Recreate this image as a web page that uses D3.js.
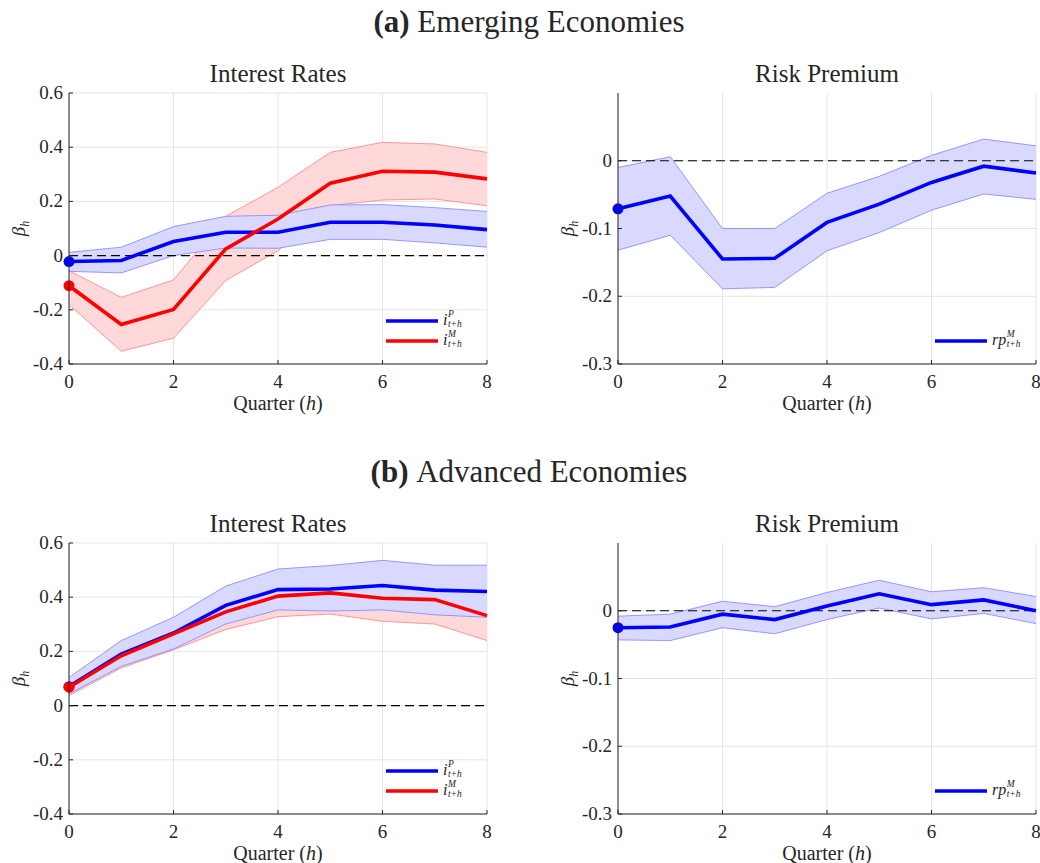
<!DOCTYPE html>
<html>
<head>
<meta charset="utf-8">
<script src="https://cdn.jsdelivr.net/npm/d3@7"></script>
<style>
  body { margin: 0; background: #fff; }
  svg text { fill: #262626; }
</style>
</head>
<body>
<svg id="chart" width="1040" height="863" font-family="'Liberation Serif', 'DejaVu Serif', serif"></svg>
<script>
var quarters = [0, 1, 2, 3, 4, 5, 6, 7, 8];
var xTicks = [0, 2, 4, 6, 8];
var rateTicks = [-0.4, -0.2, 0, 0.2, 0.4, 0.6];
var riskTicks = [-0.3, -0.2, -0.1, 0];

// emerging economies
var emPolicy   = [-0.022, -0.018, 0.052, 0.086, 0.086, 0.123, 0.123, 0.113, 0.096];
var emPolicyHi = [0.012, 0.031, 0.107, 0.145, 0.149, 0.187, 0.188, 0.177, 0.163];
var emPolicyLo = [-0.058, -0.064, 0.000, 0.028, 0.027, 0.060, 0.060, 0.047, 0.031];
var emMarket   = [-0.111, -0.254, -0.199, 0.025, 0.135, 0.267, 0.311, 0.308, 0.283];
var emMarketHi = [-0.056, -0.154, -0.090, 0.145, 0.252, 0.381, 0.418, 0.412, 0.381];
var emMarketLo = [-0.181, -0.353, -0.305, -0.092, 0.018, 0.184, 0.205, 0.209, 0.184];
var emRisk     = [-0.071, -0.052, -0.145, -0.144, -0.091, -0.064, -0.032, -0.008, -0.018];
var emRiskHi   = [-0.010, 0.006, -0.100, -0.100, -0.048, -0.023, 0.008, 0.032, 0.022];
var emRiskLo   = [-0.132, -0.110, -0.189, -0.187, -0.133, -0.106, -0.073, -0.049, -0.057];

// advanced economies
var aePolicy   = [0.070, 0.190, 0.268, 0.370, 0.428, 0.430, 0.443, 0.426, 0.421];
var aePolicyHi = [0.104, 0.240, 0.326, 0.441, 0.504, 0.517, 0.536, 0.518, 0.518];
var aePolicyLo = [0.043, 0.145, 0.209, 0.301, 0.353, 0.349, 0.353, 0.335, 0.326];
var aeMarket   = [0.068, 0.184, 0.265, 0.346, 0.404, 0.416, 0.396, 0.391, 0.332];
var aeMarketHi = [0.099, 0.229, 0.324, 0.411, 0.480, 0.494, 0.481, 0.481, 0.424];
var aeMarketLo = [0.037, 0.139, 0.206, 0.281, 0.328, 0.338, 0.311, 0.301, 0.240];
var aeRisk     = [-0.025, -0.024, -0.005, -0.013, 0.007, 0.025, 0.009, 0.016, 0.000];
var aeRiskHi   = [-0.008, -0.005, 0.014, 0.006, 0.027, 0.045, 0.028, 0.034, 0.021];
var aeRiskLo   = [-0.043, -0.044, -0.025, -0.034, -0.013, 0.004, -0.012, -0.004, -0.019];

var svg = d3.select("#chart");
var BLUE = "#0000ff", RED = "#ff0000";

function series(mid, lo, hi, color, fill, edge, sup) {
    return { mid: mid, lo: lo, hi: hi, color: color, fill: fill, edge: edge, sup: sup };
}

function fmt(v) {
    return v === 0 ? "0" : v.toFixed(1);
}

function panel(opts) {
    var x = d3.scaleLinear().domain([0, 8]).range([opts.left, opts.right]);
    var y = d3.scaleLinear().domain(opts.domain).range([opts.bottom, opts.top]);
    var g = svg.append("g");

    // grid
    g.selectAll("line.vgrid").data(xTicks).enter().append("line")
        .attr("x1", function(d) { return x(d); }).attr("x2", function(d) { return x(d); })
        .attr("y1", opts.top).attr("y2", opts.bottom)
        .attr("stroke", "#e5e5e5").attr("stroke-width", 1);
    g.selectAll("line.hgrid").data(opts.ticks).enter().append("line")
        .attr("x1", opts.left).attr("x2", opts.right)
        .attr("y1", function(d) { return y(d); }).attr("y2", function(d) { return y(d); })
        .attr("stroke", "#e5e5e5").attr("stroke-width", 1);

    var area = d3.area()
        .x(function(d, i) { return x(quarters[i]); })
        .y0(function(d) { return y(d[0]); })
        .y1(function(d) { return y(d[1]); });
    var line = d3.line()
        .x(function(d, i) { return x(quarters[i]); })
        .y(function(d) { return y(d); });

    // bands, drawn last series first so the blue one sits on top
    opts.series.slice().reverse().forEach(function(s) {
        var band = s.lo.map(function(v, i) { return [v, s.hi[i]]; });
        g.append("path").attr("d", area(band)).attr("fill", s.fill).attr("stroke", "none");
        g.append("path").attr("d", line(s.lo)).attr("fill", "none").attr("stroke", s.edge).attr("stroke-width", 0.8);
        g.append("path").attr("d", line(s.hi)).attr("fill", "none").attr("stroke", s.edge).attr("stroke-width", 0.8);
    });

    g.append("line")
        .attr("x1", opts.left).attr("x2", opts.right)
        .attr("y1", y(0)).attr("y2", y(0))
        .attr("stroke", "#000").attr("stroke-width", 1.1)
        .attr("stroke-dasharray", "9,5");

    opts.series.forEach(function(s) {
        g.append("path").attr("d", line(s.mid)).attr("fill", "none")
            .attr("stroke", s.color).attr("stroke-width", 3.6).attr("stroke-linejoin", "miter");
        g.append("circle").attr("cx", x(0)).attr("cy", y(s.mid[0])).attr("r", 5.5).attr("fill", s.color);
    });

    // axes
    g.append("line").attr("x1", opts.left).attr("x2", opts.left)
        .attr("y1", opts.top).attr("y2", opts.bottom).attr("stroke", "#262626").attr("stroke-width", 1);
    g.append("line").attr("x1", opts.left).attr("x2", opts.right)
        .attr("y1", opts.bottom).attr("y2", opts.bottom).attr("stroke", "#262626").attr("stroke-width", 1);
    g.selectAll("line.xt").data(xTicks).enter().append("line")
        .attr("x1", function(d) { return x(d); }).attr("x2", function(d) { return x(d); })
        .attr("y1", opts.bottom).attr("y2", opts.bottom - 4).attr("stroke", "#262626");
    g.selectAll("line.yt").data(opts.ticks).enter().append("line")
        .attr("x1", opts.left).attr("x2", opts.left + 4)
        .attr("y1", function(d) { return y(d); }).attr("y2", function(d) { return y(d); }).attr("stroke", "#262626");

    g.selectAll("text.xl").data(xTicks).enter().append("text")
        .attr("x", function(d) { return x(d); }).attr("y", opts.bottom + 24)
        .attr("text-anchor", "middle").attr("font-size", 19)
        .text(function(d) { return d; });
    g.selectAll("text.yl").data(opts.ticks).enter().append("text")
        .attr("x", opts.left - 6).attr("y", function(d) { return y(d) + 6; })
        .attr("text-anchor", "end").attr("font-size", 19)
        .text(fmt);

    var xl = g.append("text").attr("x", (opts.left + opts.right) / 2).attr("y", opts.bottom + 46)
        .attr("text-anchor", "middle").attr("font-size", 20);
    xl.append("tspan").text("Quarter (");
    xl.append("tspan").attr("font-style", "italic").text("h");
    xl.append("tspan").text(")");

    var yl = g.append("text")
        .attr("transform", "translate(" + (opts.left - 44) + "," + ((opts.top + opts.bottom) / 2) + ") rotate(-90)")
        .attr("text-anchor", "middle").attr("font-size", 19).attr("font-style", "italic");
    yl.append("tspan").text("\u03b2");
    yl.append("tspan").attr("font-size", 12).attr("dy", 4).text("h");

    g.append("text").attr("x", (opts.left + opts.right) / 2).attr("y", opts.top - 11)
        .attr("text-anchor", "middle").attr("font-size", 25).text(opts.title);

    // legend, bottom right: symbol with stacked super/subscript
    var n = opts.series.length;
    var base = opts.right - 44;
    opts.series.forEach(function(s, i) {
        var ly = opts.bottom - 23 - (n - 1 - i) * 20;
        g.append("line").attr("x1", opts.right - 101).attr("x2", opts.right - 49)
            .attr("y1", ly).attr("y2", ly).attr("stroke", s.color).attr("stroke-width", 3.6);
        var t = g.append("text").attr("font-style", "italic");
        var sym = t.append("tspan").attr("x", base).attr("y", ly + 4)
            .attr("font-size", 16).text(opts.symbol);
        var w = sym.node().getComputedTextLength();
        t.append("tspan").attr("x", base + w + 0.5).attr("y", ly - 4)
            .attr("font-size", 9.5).text(s.sup);
        t.append("tspan").attr("x", base + w + 0.5).attr("y", ly + 6)
            .attr("font-size", 9.5).text("t+h");
    });
}

function heading(label, rest, yPos) {
    var t = svg.append("text").attr("x", 529).attr("y", yPos)
        .attr("text-anchor", "middle").attr("font-size", 31);
    t.append("tspan").attr("font-weight", "bold").text(label + " ");
    t.append("tspan").text(rest);
}

function row(offset, policy, market, risk) {
    panel({
        left: 69, right: 487, top: 93 + offset, bottom: 364 + offset,
        domain: [-0.4, 0.6], ticks: rateTicks, title: "Interest Rates", symbol: "i",
        series: [policy, market]
    });
    panel({
        left: 618, right: 1036, top: 93 + offset, bottom: 364 + offset,
        domain: [-0.3, 0.1], ticks: riskTicks, title: "Risk Premium", symbol: "rp",
        series: [risk]
    });
}

heading("(a)", "Emerging Economies", 32);
row(0,
    series(emPolicy, emPolicyLo, emPolicyHi, BLUE, "#d9d9ff", "#8080ff", "P"),
    series(emMarket, emMarketLo, emMarketHi, RED, "#ffd9d9", "#ff8080", "M"),
    series(emRisk, emRiskLo, emRiskHi, BLUE, "#d9d9ff", "#8080ff", "M"));

heading("(b)", "Advanced Economies", 482);
row(450,
    series(aePolicy, aePolicyLo, aePolicyHi, BLUE, "#d9d9ff", "#8080ff", "P"),
    series(aeMarket, aeMarketLo, aeMarketHi, RED, "#ffd9d9", "#ff8080", "M"),
    series(aeRisk, aeRiskLo, aeRiskHi, BLUE, "#d9d9ff", "#8080ff", "M"));
</script>
</body>
</html>
